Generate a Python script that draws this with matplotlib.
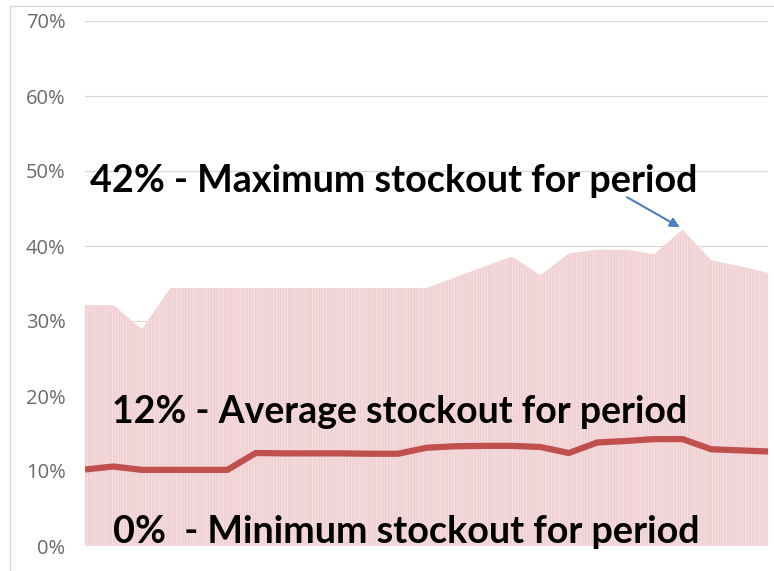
import matplotlib
matplotlib.use("Agg")
import matplotlib.pyplot as plt
from matplotlib.patches import Rectangle
import numpy as np

# Period index and stockout rates (%)
periods = list(range(25))
max_stockout = [32.1, 32.1, 28.9, 34.4, 34.4, 34.4, 34.4, 34.4, 34.4, 34.4,
                34.4, 34.4, 34.4, 35.8, 37.2, 38.6, 36.1, 39.0, 39.5, 39.5,
                38.9, 42.2, 38.1, 37.3, 36.4]
avg_stockout = [10.2, 10.6, 10.15, 10.15, 10.15, 10.15, 12.4, 12.35, 12.35, 12.35,
                12.3, 12.3, 13.1, 13.3, 13.35, 13.35, 13.2, 12.4, 13.8, 14.0,
                14.25, 14.25, 12.9, 12.75, 12.6]
y_ticks = [0, 10, 20, 30, 40, 50, 60, 70]
y_tick_labels = ["0%", "10%", "20%", "30%", "40%", "50%", "60%", "70%"]

label_max = "42% - Maximum stockout for period"
label_avg = "12% - Average stockout for period"
label_min = "0%  - Minimum stockout for period"

plt.rcParams["hatch.linewidth"] = 0.6

fig = plt.figure(figsize=(7.74, 5.71), dpi=100)
fig.patch.set_facecolor("white")

# Outer chart frame (left and top edges visible)
fig.patches.append(Rectangle((10 / 774, -0.1), 1.2, (571 - 6) / 571 + 0.1,
                             transform=fig.transFigure, fill=False,
                             edgecolor="#d9d9d9", linewidth=1.0))

ax = fig.add_axes([85 / 774, 25 / 571, 683 / 774, 525 / 571])
ax.set_xlim(0, 24)
ax.set_ylim(0, 70)

# Gridlines
for t in y_ticks[1:]:
    ax.axhline(t, color="#d9d9d9", linewidth=0.9, zorder=0)

# Maximum stockout as shaded area
ax.fill_between(periods, 0, max_stockout, facecolor="#f0d0d2",
                edgecolor="#f7e2e3", hatch="||||||", linewidth=0, zorder=1)

# Average stockout line
ax.plot(periods, avg_stockout, color="#c0504d", linewidth=4.5,
        solid_joinstyle="round", solid_capstyle="butt", zorder=3)

ax.set_yticks(y_ticks)
ax.set_yticklabels(y_tick_labels, fontsize=14.5, color="#6a6a6a",
                   family=["Open Sans", "DejaVu Sans"])
ax.tick_params(axis="y", length=0, pad=14)
ax.set_xticks([])
for s in ax.spines.values():
    s.set_visible(False)
ax.patch.set_alpha(0)

font = ["Lato", "DejaVu Sans"]
ax.text(0.0073, 47.2, label_max, transform=ax.get_yaxis_transform(),
        fontsize=27.2, fontweight="bold", family=font, color="black",
        va="baseline", ha="left", zorder=5)
ax.text(0.0395, 16.4, label_avg, transform=ax.get_yaxis_transform(),
        fontsize=27.0, fontweight="bold", family=font, color="black",
        va="baseline", ha="left", zorder=5)
ax.text(0.041, 0.4, label_min, transform=ax.get_yaxis_transform(),
        fontsize=27.2, fontweight="bold", family=font, color="black",
        va="baseline", ha="left", zorder=5)

# Arrow pointing at the peak of the maximum series
peak_i = int(np.argmax(max_stockout))
ax.annotate("", xy=(peak_i - 0.1, max_stockout[peak_i] + 0.3),
            xytext=(peak_i - 1.95, max_stockout[peak_i] + 4.3),
            arrowprops=dict(arrowstyle="-|>", color="#4a7ebb", lw=1.5,
                            mutation_scale=14, shrinkA=0, shrinkB=0),
            zorder=6)

fig.savefig("out.png", dpi=100, facecolor="white")
